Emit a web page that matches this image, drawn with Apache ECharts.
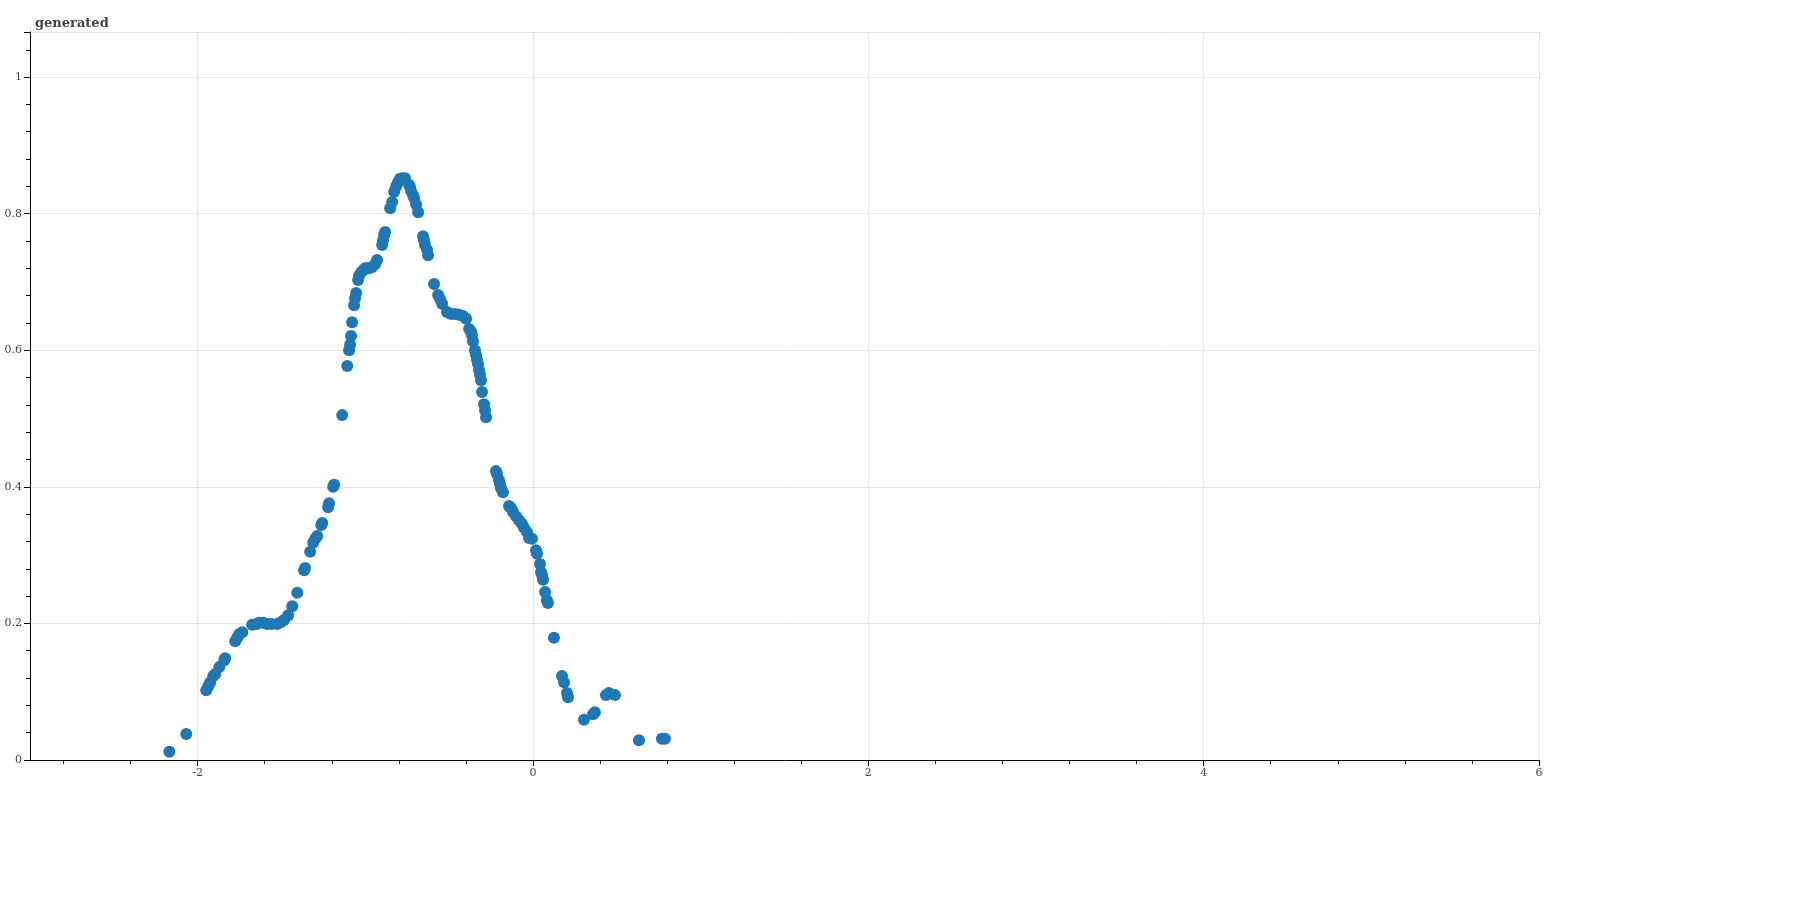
<!DOCTYPE html>
<html>
<head>
<meta charset="utf-8">
<script src="https://cdn.jsdelivr.net/npm/echarts@6/dist/echarts.min.js"></script>
<style>html,body{margin:0;padding:0;background:#fff}#chart{width:1811px;height:905px}</style>
</head>
<body>
<div id="chart"></div>
<script>
// x / y values
const xValues = [-2.169,-2.068,-1.949,-1.937,-1.925,-1.907,-1.895,-1.871,-1.841,-1.836,-1.776,-1.764,-1.752,-1.734,-1.675,-1.651,-1.633,-1.609,-1.585,-1.561,-1.526,-1.502,-1.484,-1.460,-1.436,-1.406,-1.365,-1.359,-1.329,-1.311,-1.299,-1.287,-1.263,-1.257,-1.222,-1.216,-1.192,-1.186,-1.138,-1.108,-1.097,-1.091,-1.085,-1.079,-1.067,-1.061,-1.055,-1.043,-1.037,-1.025,-1.013,-1.001,-0.989,-0.977,-0.959,-0.942,-0.930,-0.900,-0.894,-0.888,-0.882,-0.852,-0.840,-0.828,-0.816,-0.805,-0.793,-0.781,-0.763,-0.739,-0.733,-0.727,-0.715,-0.709,-0.697,-0.685,-0.656,-0.650,-0.644,-0.632,-0.626,-0.590,-0.566,-0.554,-0.542,-0.513,-0.489,-0.465,-0.441,-0.417,-0.399,-0.381,-0.369,-0.364,-0.358,-0.346,-0.340,-0.334,-0.328,-0.322,-0.316,-0.310,-0.304,-0.292,-0.286,-0.280,-0.221,-0.215,-0.203,-0.197,-0.191,-0.179,-0.143,-0.131,-0.119,-0.101,-0.083,-0.066,-0.054,-0.036,-0.024,-0.006,0.018,0.024,0.042,0.048,0.054,0.060,0.072,0.083,0.089,0.125,0.173,0.185,0.203,0.209,0.304,0.358,0.369,0.435,0.453,0.489,0.632,0.769,0.787];
const yValues = [0.012,0.038,0.102,0.108,0.114,0.123,0.126,0.136,0.146,0.149,0.174,0.179,0.184,0.187,0.198,0.199,0.201,0.201,0.199,0.199,0.199,0.202,0.205,0.212,0.225,0.245,0.278,0.281,0.305,0.318,0.324,0.328,0.344,0.347,0.370,0.376,0.400,0.403,0.505,0.577,0.600,0.608,0.621,0.641,0.666,0.676,0.684,0.703,0.709,0.714,0.717,0.720,0.720,0.720,0.722,0.726,0.732,0.754,0.761,0.769,0.773,0.808,0.817,0.832,0.840,0.846,0.851,0.852,0.852,0.842,0.839,0.833,0.827,0.823,0.813,0.802,0.767,0.761,0.754,0.747,0.739,0.697,0.681,0.675,0.668,0.656,0.653,0.653,0.652,0.650,0.646,0.631,0.627,0.622,0.613,0.600,0.593,0.586,0.580,0.571,0.564,0.556,0.539,0.521,0.512,0.502,0.423,0.419,0.410,0.404,0.398,0.392,0.372,0.369,0.363,0.357,0.351,0.346,0.340,0.334,0.325,0.324,0.307,0.302,0.287,0.275,0.271,0.264,0.246,0.234,0.230,0.179,0.123,0.114,0.098,0.092,0.059,0.067,0.070,0.095,0.098,0.095,0.029,0.031,0.031];
const xMajorTicks = [-2, 0, 2, 4, 6];
const xMinorTicks = [-2.8,-2.4,-1.6,-1.2,-0.8,-0.4,0.4,0.8,1.2,1.6,2.4,2.8,3.2,3.6,4.4,4.8,5.2,5.6];

const points = xValues.map((x, i) => [x, yValues[i]]);
const font = "DejaVu Serif";

const chart = echarts.init(document.getElementById("chart"));
chart.setOption({
    animation: false,
    title: {
        text: "generated",
        left: 30, top: 12,
        textStyle: { fontFamily: font, fontSize: 13, fontWeight: "bold", color: "#444" },
    },
    grid: { left: 30, right: 272, top: 32, bottom: 145 },
    xAxis: [
        {
            type: "value", min: -3, max: 6,
            axisLine: { onZero: false, lineStyle: { color: "#000" } },
            axisTick: { customValues: xMajorTicks, length: 6, lineStyle: { color: "#000" } },
            axisLabel: { customValues: xMajorTicks, fontFamily: font, fontSize: 11, color: "#444", margin: 8 },
            splitLine: { show: true, lineStyle: { color: "#e5e5e5" } },
        },
        {
            type: "value", min: -3, max: 6, position: "bottom",
            axisLine: { show: false },
            axisTick: { customValues: xMinorTicks, length: 4, lineStyle: { color: "#000" } },
            axisLabel: { show: false },
            splitLine: { show: false },
        },
    ],
    yAxis: {
        type: "value", min: 0, max: 1.066, interval: 0.2,
        axisLine: { show: true, onZero: false, lineStyle: { color: "#000" } },
        axisTick: { show: true, length: 6, lineStyle: { color: "#000" } },
        minorTick: { show: true, splitNumber: 5, length: 4, lineStyle: { color: "#000" } },
        axisLabel: {
            fontFamily: font, fontSize: 11, color: "#444",
            showMaxLabel: false,
            formatter: v => (v > 1.01 ? "" : String(Math.round(v * 10) / 10)),
        },
        splitLine: { show: true, lineStyle: { color: "#e5e5e5" } },
    },
    series: [
        {
            type: "scatter",
            data: points,
            symbolSize: 12,
            itemStyle: { color: "#1f77b4", opacity: 1 },
        },
    ],
});
</script>
</body>
</html>
